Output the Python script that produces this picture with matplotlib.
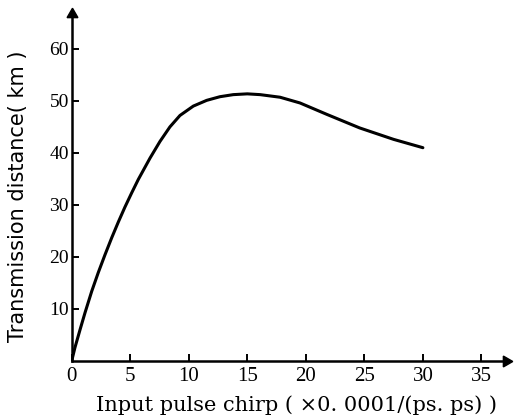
import matplotlib
matplotlib.use("Agg")
import matplotlib.pyplot as plt

# Data
chirp = [0.0, 0.28, 0.71, 1.14, 1.71, 2.27, 2.84, 3.42, 3.98, 4.55, 5.12, 5.69, 6.69,
         7.54, 8.39, 9.25, 10.39, 11.53, 12.66, 13.8, 15.0, 16.1, 17.8, 19.5, 21.8,
         24.6, 27.5, 30.0]
distance = [0.0, 2.6, 6.0, 9.3, 13.4, 17.0, 20.4, 23.7, 26.7, 29.6, 32.3, 34.9, 39.0,
            42.2, 45.0, 47.2, 49.0, 50.1, 50.8, 51.2, 51.35, 51.2, 50.7, 49.6, 47.4,
            44.8, 42.6, 41.0]

xticks = [0, 5, 10, 15, 20, 25, 30, 35]
yticks = [10, 20, 30, 40, 50, 60]

W, H = 514, 419
fig = plt.figure(figsize=(W / 100, H / 100), dpi=100)
left, right = 71.7 / W, 506 / W
bottom, top = 58 / H, 405 / H
ax = fig.add_axes([left, bottom, right - left, top - bottom])

ax.plot(chirp, distance, color="black", lw=2.2,
        solid_capstyle="round", solid_joinstyle="round")

ax.set_xlim(0, 37.1)
ax.set_ylim(0, 66.7)
ax.set_xticks(xticks)
ax.set_yticks(yticks)
ax.set_xticklabels([str(t) for t in xticks])
ax.set_yticklabels([str(t) for t in yticks])

for s in ["top", "right"]:
    ax.spines[s].set_visible(False)
for s in ["left", "bottom"]:
    ax.spines[s].set_linewidth(1.8)

ax.tick_params(axis="both", direction="in", length=5, width=1.4)
ax.tick_params(axis="x", pad=4, labelsize=15)
ax.tick_params(axis="y", pad=2, labelsize=14)
for lab in ax.get_xticklabels() + ax.get_yticklabels():
    lab.set_fontfamily("Liberation Serif")

# arrow heads at the axis ends
ax.plot(1, 0, marker=(3, 0, -90), color="black", markersize=9,
        transform=ax.transAxes, clip_on=False)
ax.plot(0, 1, marker=(3, 0, 0), color="black", markersize=9,
        transform=ax.transAxes, clip_on=False)

fig.text(18 / W, 1 - 196 / H, "Transmission distance( km )", rotation=90,
         ha="center", va="center", fontsize=15, family="DejaVu Sans")
fig.text(297 / W, 1 - 405 / H, "Input pulse chirp ( \u00d70. 0001/(ps. ps) )",
         ha="center", va="center", fontsize=15, family="DejaVu Serif")

fig.savefig("out.png", dpi=100)
